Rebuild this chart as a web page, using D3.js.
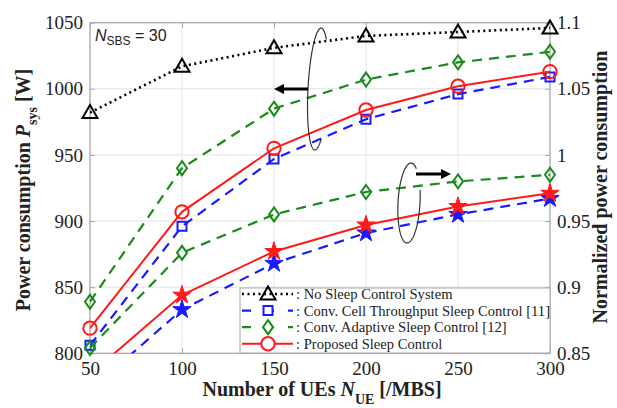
<!DOCTYPE html>
<html>
<head>
<meta charset="utf-8">
<script src="https://cdn.jsdelivr.net/npm/d3@7"></script>
<style>
  body { margin: 0; background: #fff; }
  text { font-family: "Liberation Serif", "Times New Roman", serif; }
</style>
</head>
<body>
<script>
// data
const ues = [50, 100, 150, 200, 250, 300];
const noSleepPower = [982, 1017, 1031, 1040, 1043, 1046];
const throughputPower = [806, 896, 947, 977, 996, 1009];
const adaptivePower = [839, 940, 985, 1007, 1020, 1028];
const proposedPower = [819, 907, 955, 984, 1002, 1013];
const throughputNorm = [0.822, 0.883, 0.918, 0.941, 0.955, 0.967];
const adaptiveNorm = [0.854, 0.926, 0.955, 0.972, 0.980, 0.985];
const proposedNorm = [0.834, 0.894, 0.927, 0.947, 0.961, 0.971];

const xTicks = [50, 100, 150, 200, 250, 300];
const leftTicks = [800, 850, 900, 950, 1000, 1050];
const rightTicks = [0.85, 0.9, 0.95, 1, 1.05, 1.1];
const legendLabels = [": No Sleep Control System", ": Conv. Cell Throughput Sleep Control [11]",
  ": Conv. Adaptive Sleep Control [12]", ": Proposed Sleep Control"];

const W = 617, H = 408;
const margin = {left: 90, right: 67, top: 22.7, bottom: 54.7};
const width = W - margin.left - margin.right;
const height = H - margin.top - margin.bottom;

const svg = d3.select('body').append('svg')
    .attr('width', W)
    .attr('height', H);

const g = svg.append('g')
    .attr('transform', `translate(${margin.left}, ${margin.top})`);

var x = d3.scaleLinear().domain([50, 300]).range([0, width]);
var yL = d3.scaleLinear().domain([800, 1050]).range([height, 0]);
var yR = d3.scaleLinear().domain([0.85, 1.1]).range([height, 0]);

// grid
g.append('g').selectAll('line').data(xTicks).enter().append('line')
    .attr('x1', d => x(d)).attr('x2', d => x(d))
    .attr('y1', 0).attr('y2', height)
    .style('stroke', '#e3e3e3').style('stroke-width', 1);
g.append('g').selectAll('line').data(leftTicks).enter().append('line')
    .attr('x1', 0).attr('x2', width)
    .attr('y1', d => yL(d)).attr('y2', d => yL(d))
    .style('stroke', '#e3e3e3').style('stroke-width', 1);

// box + axes
g.append('rect').attr('width', width).attr('height', height)
    .style('fill', 'none').style('stroke', '#a8a8a8').style('stroke-width', 1.2);

function styleAxis(sel) {
    sel.attr('font-family', null);
    sel.select('.domain').remove();
    sel.selectAll('line').style('stroke', '#a8a8a8');
    sel.selectAll('text').style('font-size', '19px').style('fill', '#222')
        .style('font-family', '"Liberation Serif", "Times New Roman", serif');
}

g.append('g').attr('transform', `translate(0,${height})`)
    .call(d3.axisBottom(x).tickValues(xTicks).tickSize(-5).tickPadding(8))
    .call(styleAxis);
g.append('g')
    .call(d3.axisTop(x).tickValues(xTicks).tickSize(-5).tickFormat(''))
    .call(styleAxis);
g.append('g')
    .call(d3.axisLeft(yL).tickValues(leftTicks).tickSize(-5).tickPadding(7).tickFormat(d3.format('d')))
    .call(styleAxis);
g.append('g').attr('transform', `translate(${width},0)`)
    .call(d3.axisRight(yR).tickValues(rightTicks).tickSize(-5).tickPadding(7)
        .tickFormat(d => String(+d.toFixed(2))))
    .call(styleAxis);

// clip for lines
svg.append('defs').append('clipPath').attr('id', 'clip')
    .append('rect').attr('width', width).attr('height', height);

// marker shapes
const shapes = {
    triangle: 'M0,-7.5L7.5,5.5L-7.5,5.5Z',
    square: 'M-4.5,-4.5H4.5V4.5H-4.5Z',
    diamond: 'M0,-7L5,0L0,7L-5,0Z',
    circle: d3.symbol().type(d3.symbolCircle).size(140)(),
    star: d3.symbol().type(d3.symbolStar).size(105)()
};

const series = [
    {vals: noSleepPower, y: yL, color: '#000', dash: '2,3.5', shape: 'triangle', fill: 'none', lw: 2.6},
    {vals: adaptivePower, y: yL, color: '#1a8a1a', dash: '10,7', shape: 'diamond', fill: 'none', lw: 2.2},
    {vals: throughputPower, y: yL, color: '#1a1aff', dash: '10,7', shape: 'square', fill: 'none', lw: 2.2},
    {vals: proposedPower, y: yL, color: '#ff1a1a', dash: null, shape: 'circle', fill: 'none', lw: 2},
    {vals: adaptiveNorm, y: yR, color: '#1a8a1a', dash: '10,7', shape: 'diamond', fill: 'none', lw: 2.2},
    {vals: throughputNorm, y: yR, color: '#1a1aff', dash: '10,7', shape: 'star', fill: '#1a1aff', lw: 2.2},
    {vals: proposedNorm, y: yR, color: '#ff1a1a', dash: null, shape: 'star', fill: '#ff1a1a', lw: 2}
];

series.forEach(s => {
    const pts = ues.map((u, i) => ({u: u, v: s.vals[i]}));
    const line = d3.line().x(d => x(d.u)).y(d => s.y(d.v));
    g.append('path').datum(pts)
        .attr('clip-path', 'url(#clip)')
        .attr('d', line)
        .style('fill', 'none')
        .style('stroke', s.color)
        .style('stroke-width', s.lw)
        .style('stroke-dasharray', s.dash);
    const dom = s.y.domain();
    g.append('g').selectAll('path')
        .data(pts.filter(d => d.v >= dom[0] && d.v <= dom[1]))
        .enter().append('path')
        .attr('transform', d => `translate(${x(d.u)},${s.y(d.v)})`)
        .attr('d', shapes[s.shape])
        .style('fill', s.fill)
        .style('stroke', s.color)
        .style('stroke-width', s.shape === 'star' ? 1 : 2);
});

// annotation: ellipses + arrows
function ellipseArc(cx, cy, rx, ry, t0, t1) {
    const pts = d3.range(t0, t1 + 0.5, 2).map(t => {
        const a = t * Math.PI / 180;
        return [cx + rx * Math.cos(a), cy + ry * Math.sin(a)];
    });
    return d3.line()(pts);
}
svg.append('path').attr('d', ellipseArc(318, 89, 10, 61, 55, 305))
    .attr('transform', 'rotate(3,318,89)')
    .style('fill', 'none').style('stroke', '#333').style('stroke-width', 1.2);
svg.append('path').attr('d', ellipseArc(409, 203, 11, 40, -20, 300))
    .attr('transform', 'rotate(3,409,203)')
    .style('fill', 'none').style('stroke', '#333').style('stroke-width', 1.2);

svg.append('defs').append('marker').attr('id', 'arrow')
    .attr('viewBox', '0 0 10 10').attr('refX', 5).attr('refY', 5)
    .attr('markerWidth', 3.4).attr('markerHeight', 3.4).attr('orient', 'auto')
    .append('path').attr('d', 'M0,0L10,5L0,10Z').style('fill', '#000');
svg.append('line').attr('x1', 308).attr('y1', 89).attr('x2', 279).attr('y2', 89)
    .style('stroke', '#000').style('stroke-width', 3).attr('marker-end', 'url(#arrow)');
svg.append('line').attr('x1', 416).attr('y1', 174).attr('x2', 446).attr('y2', 174)
    .style('stroke', '#000').style('stroke-width', 3).attr('marker-end', 'url(#arrow)');

// N_SBS label
const nl = svg.append('text').attr('x', 95).attr('y', 41)
    .style('font-family', '"Liberation Sans", sans-serif').style('font-size', '16px').style('fill', '#222');
nl.append('tspan').text('N').style('font-style', 'italic');
nl.append('tspan').text('SBS').attr('dy', 4).style('font-size', '12px');
nl.append('tspan').text(' = 30').attr('dy', -4);

// legend
const lg = svg.append('g').attr('transform', 'translate(240,288)');
lg.append('rect').attr('width', 310).attr('height', 65)
    .style('fill', '#fff').style('stroke', '#a8a8a8').style('stroke-width', 1);
const legendSeries = [series[0], series[2], series[1], series[3]];
legendSeries.forEach((s, i) => {
    const yy = 6 + i * 16.6;
    lg.append('line').attr('x1', 2).attr('x2', 53).attr('y1', yy).attr('y2', yy)
        .style('stroke', s.color).style('stroke-width', s.lw)
        .style('stroke-dasharray', s.dash ? (i === 0 ? '2,3.5' : '9,14') : null);
    lg.append('path').attr('transform', `translate(28,${yy})`)
        .attr('d', shapes[s.shape])
        .style('fill', i === 0 ? 'none' : '#fff').style('stroke', s.color).style('stroke-width', 2);
    lg.append('text').attr('x', 56).attr('y', yy + 5)
        .style('font-size', '14.6px').style('fill', '#222')
        .text(legendLabels[i]);
});

// axis titles
const xt = svg.append('text').attr('x', 322).attr('y', 396).attr('text-anchor', 'middle')
    .style('font-size', '20px').style('font-weight', 'bold').style('fill', '#222');
xt.append('tspan').text('Number of UEs  ');
xt.append('tspan').text('N').style('font-style', 'italic');
xt.append('tspan').text('UE').attr('dy', 8).style('font-size', '14px');
xt.append('tspan').text(' [/MBS]').attr('dy', -8);

const yt = svg.append('text').attr('transform', 'translate(30,190) rotate(-90)').attr('text-anchor', 'middle')
    .style('font-size', '20px').style('font-weight', 'bold').style('fill', '#222');
yt.append('tspan').text('Power consumption  ');
yt.append('tspan').text('P').style('font-style', 'italic');
yt.append('tspan').text('sys').attr('dy', 7).style('font-size', '14px');
yt.append('tspan').text(' [W]').attr('dy', -7);

svg.append('text').attr('transform', 'translate(607,187) rotate(-90)').attr('text-anchor', 'middle')
    .style('font-size', '20px').style('font-weight', 'bold').style('fill', '#222')
    .text('Normalized power consumption');
</script>
</body>
</html>
